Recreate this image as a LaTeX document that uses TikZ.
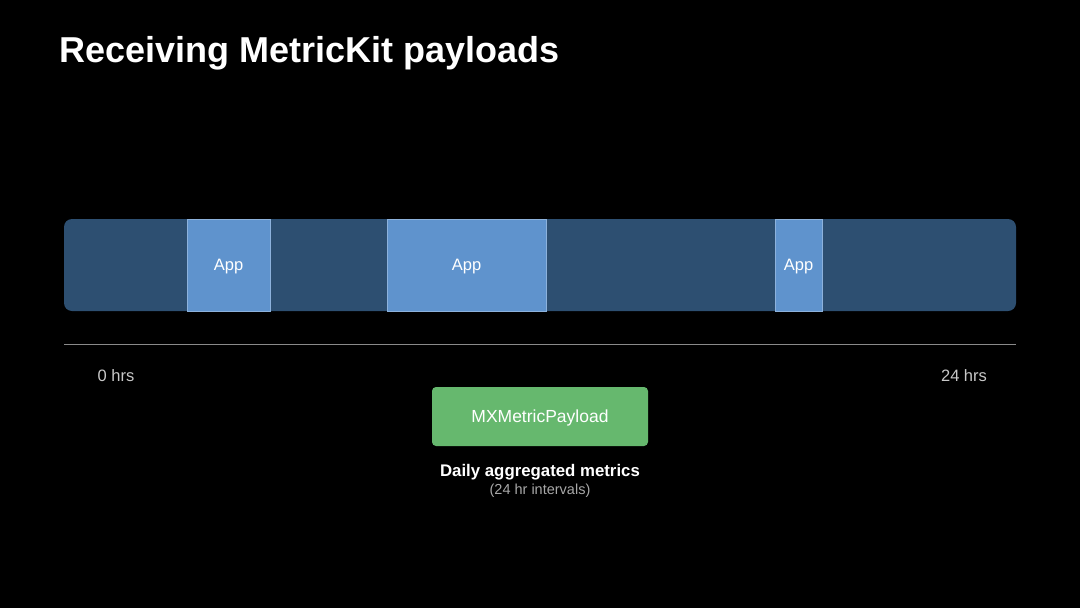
\documentclass[tikz,border=0pt]{standalone}
\usepackage{fontspec}
\setmainfont{Liberation Sans}
\definecolor{bg}{HTML}{000000}
\definecolor{track}{HTML}{2D4F71}
\definecolor{appfill}{HTML}{5F93CD}
\definecolor{appedge}{HTML}{8DB2DC}
\definecolor{payload}{HTML}{66B86E}
\definecolor{axisline}{HTML}{8A8A8A}
\definecolor{lbl}{HTML}{C8C8C8}
\definecolor{sub}{HTML}{A8A8A8}
\tikzset{
  appbox/.style={draw=appedge, line width=0.8pt, fill=appfill, text=white, font=\fontsize{16.5}{18}\selectfont, inner sep=0pt, text depth=0pt},
  hrslabel/.style={text=lbl, font=\fontsize{16.5}{18}\selectfont},
}
\begin{document}
\begin{tikzpicture}[x=1pt,y=-1pt]
\fill[bg] (0,0) rectangle (1080,608);
\useasboundingbox (0,0) rectangle (1080,608);
\node[anchor=base west, text=white, font=\bfseries\fontsize{36}{40}\selectfont, inner sep=0pt] (title) at (59,62) {Receiving MetricKit payloads};
\node[fill=track, rounded corners=8pt, minimum width=952pt, minimum height=92pt, inner sep=0pt] (track) at (540,265) {};
\node[appbox, minimum width=83pt, minimum height=92pt] (app1) at (228.5,265) {App};
\node[appbox, minimum width=159pt, minimum height=92pt] (app2) at (466.5,265) {App};
\node[appbox, minimum width=47pt, minimum height=92pt] (app3) at (798.5,265) {App};
\coordinate (axl) at (64,344.5);
\coordinate (axr) at (1016,344.5);
\draw[axisline, line width=1pt] (axl) -- (axr);
\node[hrslabel] (zero) at (116,376) {0 hrs};
\node[hrslabel] (full) at (964,376) {24 hrs};
\node[fill=payload, rounded corners=4pt, minimum width=216pt, minimum height=59pt, inner sep=0pt, text depth=0pt, text=white, font=\fontsize{17.5}{20}\selectfont] (pay) at (540,416.5) {MXMetricPayload};
\node[text=white, font=\bfseries\fontsize{16.8}{18}\selectfont] (daily) at (540,472) {Daily aggregated metrics};
\node[text=sub, font=\fontsize{14.5}{16}\selectfont] (intv) at (540,491) {(24 hr intervals)};
\end{tikzpicture}
\end{document}
